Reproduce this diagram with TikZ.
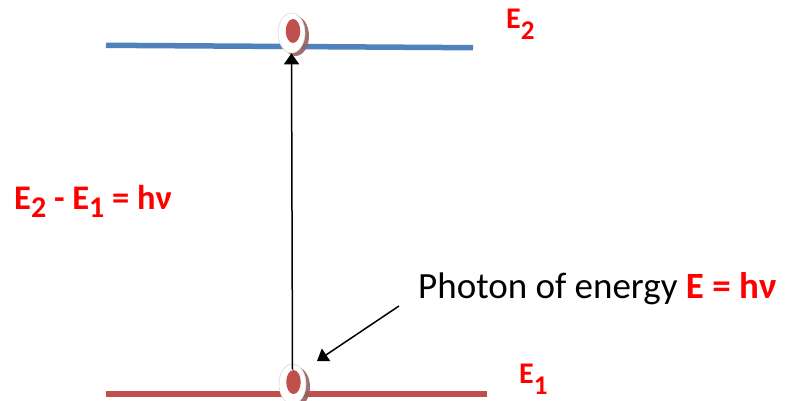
\documentclass[tikz,border=0pt]{standalone}
\usepackage{fontspec}
\setmainfont{Carlito}
\usetikzlibrary{arrows.meta,shapes.geometric,shadows}
\definecolor{lvblue}{RGB}{79,129,189}
\definecolor{lvred}{RGB}{192,80,77}
\definecolor{shadowbrown}{RGB}{150,95,95}
\definecolor{txtred}{RGB}{255,0,0}
\tikzset{
  level/.style={line width=5.5pt},
  electron/.style={ellipse, draw=black!15, line width=0.6pt, fill=white, inner sep=0pt,
    minimum width=27pt, minimum height=40pt,
    drop shadow={shadow xshift=4pt, shadow yshift=-3pt, fill=shadowbrown, opacity=0.9}},
  core/.style={ellipse, fill=lvred, inner sep=0pt, minimum width=14.5pt, minimum height=24pt},
  lbl/.style={inner sep=0pt, anchor=base west, text=txtred, font=\bfseries},
  conn/.style={line width=1.5pt, -{Triangle[length=11pt,width=15pt]}},
}
\newcommand{\mysub}[2]{\raisebox{-#2}{#1}}
\begin{document}
\begin{tikzpicture}[x=1pt,y=-1pt]
\useasboundingbox (0,0) rectangle (785,401);
% energy levels
\draw[level, lvblue] (106,45.3) -- (473,47.7);
\draw[level, lvred] (106,394) -- (487,394);
% electrons
\node[electron] (e2) at (291.5,33) {};
\node[core] (c2) at (293,31) {};
\node[electron] (e1) at (292.5,384) {};
\node[core] (c1) at (293.5,382) {};
% labels
\node[lbl, font=\bfseries\fontsize{30}{30}\selectfont] (l2) at (506,29)
  {E\mysub{\fontsize{27}{27}\selectfont 2}{11pt}};
\node[lbl, font=\bfseries\fontsize{30}{30}\selectfont] (l1) at (519,383)
  {E\mysub{\fontsize{27}{27}\selectfont 1}{11pt}};
\node[lbl, font=\bfseries\fontsize{34.5}{34.5}\selectfont] (eq) at (14,209)
  {E\mysub{\fontsize{30}{30}\selectfont 2}{9pt} - E\mysub{\fontsize{30}{30}\selectfont 1}{9pt} = hν};
\node[inner sep=0pt, anchor=base west, font=\fontsize{37}{37}\selectfont] (ph) at (418,298)
  {Photon of energy \textcolor{txtred}{\bfseries E = hν}};
% arrows
\coordinate (ps) at (399,306);
\draw[conn] ([yshift=-6pt]e1.north) -- (e2.south);
\draw[conn] (ps) -- (317,361);
\end{tikzpicture}
\end{document}
